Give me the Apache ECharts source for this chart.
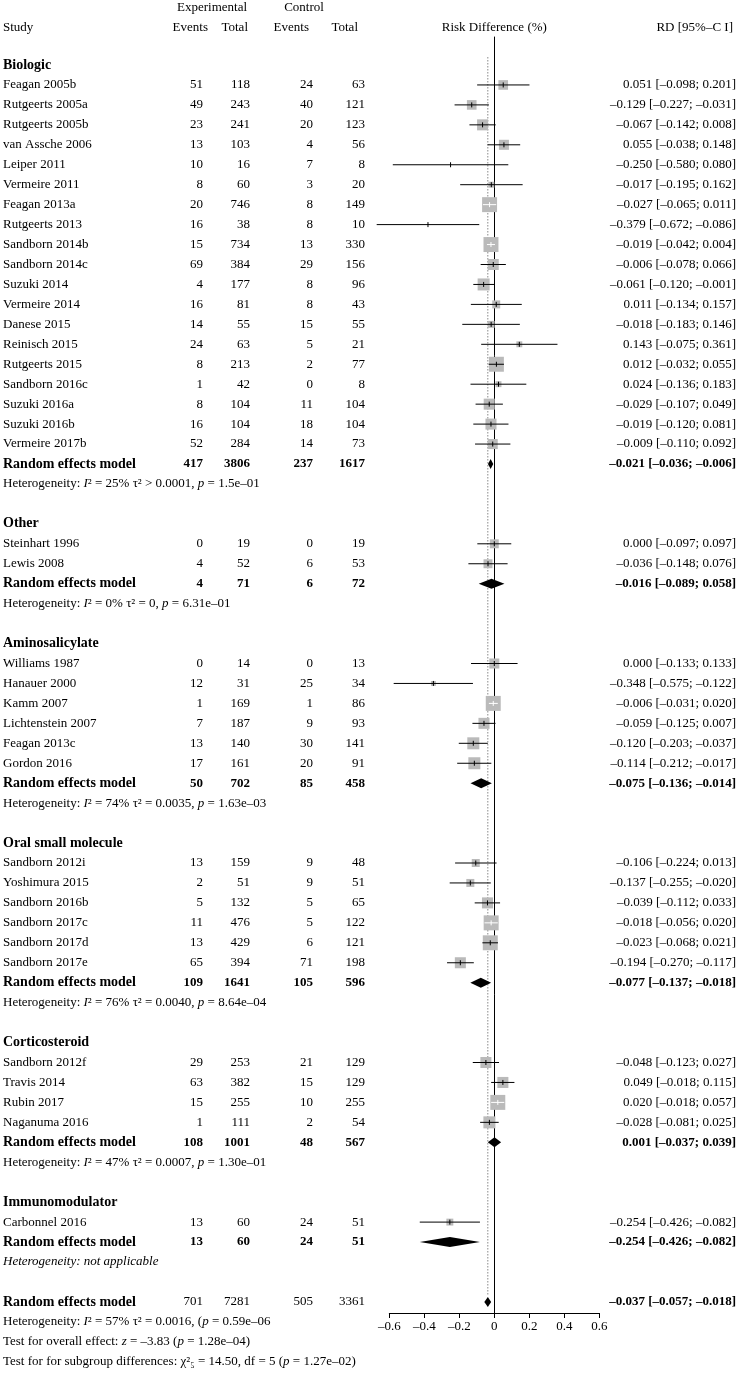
<!DOCTYPE html>
<html><head><meta charset="utf-8">
<script src="https://cdn.jsdelivr.net/npm/echarts@6/dist/echarts.min.js"></script>
<style>html,body{margin:0;padding:0;background:#fff}#c{width:738px;height:1375px}</style>
</head><body><div id="c"></div>
<script>
// ---------------- data ----------------
const groupNames = ['Biologic', 'Other', 'Aminosalicylate', 'Oral small molecule', 'Corticosteroid', 'Immunomodulator'];

const studyNames = [
  'Feagan 2005b','Rutgeerts 2005a','Rutgeerts 2005b','van Assche 2006','Leiper 2011','Vermeire 2011','Feagan 2013a','Rutgeerts 2013','Sandborn 2014b','Sandborn 2014c','Suzuki 2014','Vermeire 2014','Danese 2015','Reinisch 2015','Rutgeerts 2015','Sandborn 2016c','Suzuki 2016a','Suzuki 2016b','Vermeire 2017b',
  'Steinhart 1996','Lewis 2008',
  'Williams 1987','Hanauer 2000','Kamm 2007','Lichtenstein 2007','Feagan 2013c','Gordon 2016',
  'Sandborn 2012i','Yoshimura 2015','Sandborn 2016b','Sandborn 2017c','Sandborn 2017d','Sandborn 2017e',
  'Sandborn 2012f','Travis 2014','Rubin 2017','Naganuma 2016',
  'Carbonnel 2016'
];
const studyGroup = [0,0,0,0,0,0,0,0,0,0,0,0,0,0,0,0,0,0,0, 1,1, 2,2,2,2,2,2, 3,3,3,3,3,3, 4,4,4,4, 5];
const expEvents  = [51,49,23,13,10,8,20,16,15,69,4,16,14,24,8,1,8,16,52, 0,4, 0,12,1,7,13,17, 13,2,5,11,13,65, 29,63,15,1, 13];
const expTotal   = [118,243,241,103,16,60,746,38,734,384,177,81,55,63,213,42,104,104,284, 19,52, 14,31,169,187,140,161, 159,51,132,476,429,394, 253,382,255,111, 60];
const ctrlEvents = [24,40,20,4,7,3,8,8,13,29,8,8,15,5,2,0,11,18,14, 0,6, 0,25,1,9,30,20, 9,9,5,5,6,71, 21,15,10,2, 24];
const ctrlTotal  = [63,121,123,56,8,20,149,10,330,156,96,43,55,21,77,8,104,104,73, 19,53, 13,34,86,93,141,91, 48,51,65,122,121,198, 129,129,255,54, 51];
const rd      = [0.051,-0.129,-0.067,0.055,-0.250,-0.017,-0.027,-0.379,-0.019,-0.006,-0.061,0.011,-0.018,0.143,0.012,0.024,-0.029,-0.019,-0.009, 0.000,-0.036, 0.000,-0.348,-0.006,-0.059,-0.120,-0.114, -0.106,-0.137,-0.039,-0.018,-0.023,-0.194, -0.048,0.049,0.020,-0.028, -0.254];
const rdLower = [-0.098,-0.227,-0.142,-0.038,-0.580,-0.195,-0.065,-0.672,-0.042,-0.078,-0.120,-0.134,-0.183,-0.075,-0.032,-0.136,-0.107,-0.120,-0.110, -0.097,-0.148, -0.133,-0.575,-0.031,-0.125,-0.203,-0.212, -0.224,-0.255,-0.112,-0.056,-0.068,-0.270, -0.123,-0.018,-0.018,-0.081, -0.426];
const rdUpper = [0.201,-0.031,0.008,0.148,0.080,0.162,0.011,-0.086,0.004,0.066,-0.001,0.157,0.146,0.361,0.055,0.183,0.049,0.081,0.092, 0.097,0.076, 0.133,-0.122,0.020,0.007,-0.037,-0.017, 0.013,-0.020,0.033,0.020,0.021,-0.117, 0.027,0.115,0.057,0.025, -0.082];
// relative study weights (box area)
const studyWeight = [5.8,5.8,7.6,6.3,0.05,2.2,14,0.05,14,7.6,9,4,3,2.2,14,2.2,7.6,7.6,6.3, 5,5, 6.3,1.5,14,7.6,9,9, 4,4,7.6,14,14,7.6, 7.6,7.6,14,9, 3];

const groupExpEvents  = [417, 4, 50, 109, 108, 13];
const groupExpTotal   = [3806, 71, 702, 1641, 1001, 60];
const groupCtrlEvents = [237, 6, 85, 105, 48, 24];
const groupCtrlTotal  = [1617, 72, 458, 596, 567, 51];
const groupRD    = [-0.021, -0.016, -0.075, -0.077, 0.001, -0.254];
const groupLower = [-0.036, -0.089, -0.136, -0.137, -0.037, -0.426];
const groupUpper = [-0.006, 0.058, -0.014, -0.018, 0.039, -0.082];
const groupI2  = ['25%', '0%', '74%', '76%', '47%', null];
const groupTau = ['> 0.0001', '= 0', '= 0.0035', '= 0.0040', '= 0.0007', null];
const groupP   = ['1.5e–01', '6.31e–01', '1.63e–03', '8.64e–04', '1.30e–01', null];

const overallCounts = [701, 7281, 505, 3361];
const overallRD = [-0.037, -0.057, -0.018];
const overallHet = ['57%', '= 0.0016', '0.59e–06'];
const overallTest = ['–3.83', '1.28e–04'];
const subgroupTest = ['14.50', '5', '1.27e–02'];

const xTicks = [-0.6, -0.4, -0.2, 0, 0.2, 0.4, 0.6];

// ---------------- layout helpers ----------------
const FONT = '"Liberation Serif", "DejaVu Serif", serif';
const fN = '13px ' + FONT, fB = 'bold 13px ' + FONT, fI = 'italic 13px ' + FONT;
const fBL = 'bold 14px ' + FONT;
const dash = s => s.replace(/-/g, '–');
const f3 = v => dash(v.toFixed(3));
const ci = (e, l, u) => f3(e) + ' [' + f3(l) + '; ' + f3(u) + ']';

const COL = { name: 3, ee: 203, et: 250, ce: 313, ct: 365, rd: 736 };

const rows = [];
const studyMarks = [];
const diamondMarks = [];
let r = 0;
groupNames.forEach((g, gi) => {
  rows.push({ r: r++, kind: 'group', label: g });
  studyNames.forEach((s, i) => {
    if (studyGroup[i] !== gi) return;
    rows.push({ r: r, kind: 'study', label: s, cells: [expEvents[i], expTotal[i], ctrlEvents[i], ctrlTotal[i]], rd: ci(rd[i], rdLower[i], rdUpper[i]) });
    studyMarks.push([r, rd[i], rdLower[i], rdUpper[i], studyWeight[i]]);
    r++;
  });
  rows.push({ r: r, kind: 'pooled', label: 'Random effects model', cells: [groupExpEvents[gi], groupExpTotal[gi], groupCtrlEvents[gi], groupCtrlTotal[gi]], rd: ci(groupRD[gi], groupLower[gi], groupUpper[gi]), boldCells: true });
  diamondMarks.push([r, groupRD[gi], groupLower[gi], groupUpper[gi]]);
  r++;
  if (groupI2[gi] === null) {
    rows.push({ r: r++, kind: 'rich', text: '{i|Heterogeneity: not applicable}' });
  } else {
    rows.push({ r: r++, kind: 'rich', text: '{n|Heterogeneity: }{i|I}{n|² = ' + groupI2[gi] + ' τ² ' + groupTau[gi] + ', }{i|p}{n| = ' + groupP[gi] + '}' });
  }
  r++;
});
rows.push({ r: r, kind: 'pooled', label: 'Random effects model', cells: overallCounts, rd: ci(overallRD[0], overallRD[1], overallRD[2]), boldCells: false });
diamondMarks.push([r, overallRD[0], overallRD[1], overallRD[2]]);
const overallRow = r;
r++;
rows.push({ r: r++, kind: 'rich', text: '{n|Heterogeneity: }{i|I}{n|² = ' + overallHet[0] + ' τ² ' + overallHet[1] + ', (}{i|p}{n| = ' + overallHet[2] + '}' });
rows.push({ r: r++, kind: 'rich', text: '{n|Test for overall effect: }{i|z}{n| = ' + overallTest[0] + ' (}{i|p}{n| = ' + overallTest[1] + ')}' });
rows.push({ r: r++, kind: 'rich', text: '{n|Test for for subgroup differences: χ²₅ = ' + subgroupTest[0] + ', df = ' + subgroupTest[1] + ' (}{i|p}{n| = ' + subgroupTest[2] + ')}' });
// headers
rows.push({ r: -2.86, kind: 'header1' });
rows.push({ r: -1.86, kind: 'header2' });

function T(x, y, text, align, font) {
  return { type: 'text', x: x, y: y, style: { text: String(text), font: font, fill: '#000', textAlign: align, align: align, textVerticalAlign: 'middle', verticalAlign: 'middle' } };
}

// row scale: row r sits at 65 + 19.95 r px; grid spans from y=37 to the axis at y=1313
const Y_MIN = (37 - 65) / 19.95, Y_MAX = (1313 - 65) / 19.95;

const chart = echarts.init(document.getElementById('c'), null, { renderer: 'canvas' });
chart.setOption({
  backgroundColor: '#fff',
  animation: false,
  grid: { left: 389.3, width: 210, top: 37, height: 1276, containLabel: false },
  xAxis: {
    type: 'value', min: -0.6, max: 0.6, interval: 0.2,
    axisLine: { show: true, onZero: false, lineStyle: { color: '#000', width: 1 } },
    axisTick: { show: true, length: 5, lineStyle: { color: '#000' } },
    axisLabel: { color: '#000', fontFamily: FONT, fontSize: 13, margin: 7, formatter: v => dash(String(Math.round(v * 10) / 10)) },
    splitLine: { show: false }
  },
  yAxis: {
    type: 'value', inverse: true, min: Y_MIN, max: Y_MAX,
    axisLine: { show: true, onZero: true, lineStyle: { color: '#000', width: 1 } },
    axisTick: { show: false }, axisLabel: { show: false }, splitLine: { show: false }
  },
  series: [
    { // dotted line at overall estimate
      type: 'custom', clip: false, silent: true,
      data: [[overallRD[0], -0.4, overallRow - 0.3]],
      encode: { x: 0, y: [1, 2] },
      renderItem: (p, api) => {
        const a = api.coord([api.value(0), api.value(1)]);
        const b = api.coord([api.value(0), api.value(2)]);
        return { type: 'line', shape: { x1: a[0], y1: a[1], x2: b[0], y2: b[1] }, style: { stroke: '#888', lineWidth: 1, lineDash: [1.5, 1.5] } };
      }
    },
    { // study boxes and CIs
      type: 'custom', clip: false, silent: true,
      data: studyMarks,
      encode: { x: [1, 2, 3], y: 0 },
      renderItem: (p, api) => {
        const rr = api.value(0);
        const c = api.coord([api.value(1), rr]);
        const lo = api.coord([api.value(2), rr]);
        const hi = api.coord([api.value(3), rr]);
        const side = 4 * Math.sqrt(api.value(4));
        const inside = (hi[0] - lo[0]) < side;
        const col = inside ? '#fff' : '#000';
        return {
          type: 'group', children: [
            { type: 'rect', shape: { x: c[0] - side / 2, y: c[1] - side / 2, width: side, height: side }, style: { fill: '#bababa' } },
            { type: 'line', shape: { x1: lo[0], y1: c[1], x2: hi[0], y2: c[1] }, style: { stroke: col, lineWidth: 1 } },
            { type: 'line', shape: { x1: c[0], y1: c[1] - 2.5, x2: c[0], y2: c[1] + 2.5 }, style: { stroke: col, lineWidth: 1 } }
          ]
        };
      }
    },
    { // pooled diamonds
      type: 'custom', clip: false, silent: true,
      data: diamondMarks,
      encode: { x: [1, 2, 3], y: 0 },
      renderItem: (p, api) => {
        const rr = api.value(0);
        const c = api.coord([api.value(1), rr]);
        const lo = api.coord([api.value(2), rr]);
        const hi = api.coord([api.value(3), rr]);
        const h = 5;
        return { type: 'polygon', shape: { points: [[lo[0], c[1]], [c[0], c[1] - h], [hi[0], c[1]], [c[0], c[1] + h]] }, style: { fill: '#000' } };
      }
    },
    { // table text
      type: 'custom', clip: false, silent: true,
      data: rows.map(o => [0, o.r]),
      encode: { x: 0, y: 1 },
      renderItem: (p, api) => {
        const o = rows[p.dataIndex];
        const y = api.coord([0, o.r])[1];
        const ch = [];
        if (o.kind === 'header1') {
          ch.push(T(212, y, 'Experimental', 'center', fN));
          ch.push(T(304, y, 'Control', 'center', fN));
        } else if (o.kind === 'header2') {
          ch.push(T(COL.name, y, 'Study', 'left', fN));
          ch.push(T(208, y, 'Events', 'right', fN));
          ch.push(T(248, y, 'Total', 'right', fN));
          ch.push(T(309, y, 'Events', 'right', fN));
          ch.push(T(358, y, 'Total', 'right', fN));
          ch.push(T(494.3, y, 'Risk Difference (%)', 'center', fN));
          ch.push(T(733, y, 'RD [95%–C I]', 'right', fN));
        } else if (o.kind === 'group') {
          ch.push(T(COL.name, y, o.label, 'left', fBL));
        } else if (o.kind === 'study' || o.kind === 'pooled') {
          const lf = o.kind === 'pooled' ? fBL : fN;
          const cf = o.kind === 'pooled' && o.boldCells ? fB : fN;
          ch.push(T(COL.name, y, o.label, 'left', lf));
          ch.push(T(COL.ee, y, o.cells[0], 'right', cf));
          ch.push(T(COL.et, y, o.cells[1], 'right', cf));
          ch.push(T(COL.ce, y, o.cells[2], 'right', cf));
          ch.push(T(COL.ct, y, o.cells[3], 'right', cf));
          ch.push(T(COL.rd, y, o.rd, 'right', o.kind === 'pooled' ? fB : fN));
        } else if (o.kind === 'rich') {
          ch.push({ type: 'text', x: COL.name, y: y, style: { text: o.text, fill: '#000', font: fN, textAlign: 'left', align: 'left', textVerticalAlign: 'middle', verticalAlign: 'middle',
            rich: { n: { font: fN, fill: '#000' }, i: { font: fI, fill: '#000' } } } });
        }
        return { type: 'group', children: ch };
      }
    }
  ]
});
</script></body></html>
